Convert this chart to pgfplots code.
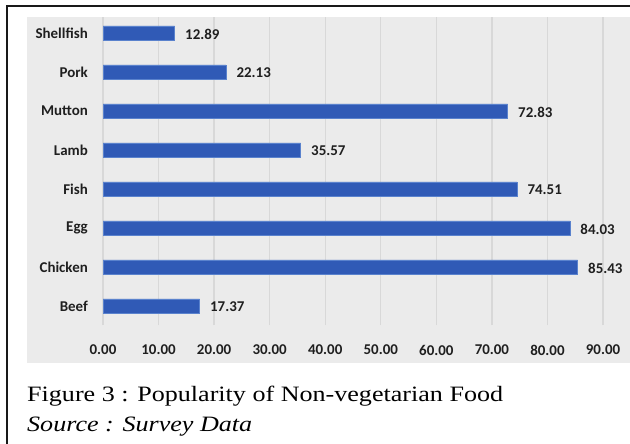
\documentclass[border=0pt]{standalone}
\usepackage{pgfplots}
\pgfplotsset{compat=1.18}
\usepackage{fontspec}
\setmainfont[FakeStretch=1.19]{Liberation Serif}
\newfontfamily\chartfont{Carlito}
\definecolor{panel}{RGB}{235,235,235}
\definecolor{gridc}{RGB}{216,216,216}
\definecolor{barblue}{RGB}{48,90,182}
\definecolor{baredge}{RGB}{90,130,205}
\begin{document}
\begin{tikzpicture}[x=1bp,y=1bp]
\useasboundingbox (0,0) rectangle (630,444);
\fill[panel] (27,81) rectangle (630,427);
\draw[line width=2bp,black!90] (7,0) -- (7,438) -- (630,438);
\begin{axis}[
  at={(103bp,118.5bp)}, anchor=south west,
  width=500bp, height=308.9bp, scale only axis,
  xmin=0, xmax=90, ymin=-0.5, ymax=7.42,
  xtick={0,10,...,90},
  ytick={0,...,7},
  yticklabels={Beef,Chicken,Egg,Fish,Lamb,Mutton,Pork,Shellfish},
  axis line style={draw=none},
  major tick length=0pt,
  xmajorgrids, major grid style={gridc, line width=1.4bp},
  ymajorgrids=false,
  /pgf/number format/.cd, fixed, fixed zerofill, precision=2, assume math mode=true,
  /pgfplots/.cd,
  tick label style={font=\chartfont\bfseries\fontsize{15}{18}\selectfont, text=black!88},
  yticklabel style={inner sep=0pt, anchor=east, xshift=-15bp},
  xticklabel style={inner sep=0pt, anchor=north, yshift=-19.5bp},
  clip=false,
  xbar, bar width=14bp,
  point meta=x,
  nodes near coords,
  nodes near coords style={font=\chartfont\bfseries\fontsize{15}{18}\selectfont, text=black!88, anchor=west, xshift=7bp, yshift=-1bp},
]
\addplot[fill=barblue, draw=baredge, line width=0.6bp] coordinates {
  (17.37,0) (85.43,1) (84.03,2) (74.51,3) (35.57,4) (72.83,5) (22.13,6) (12.89,7)
};
\end{axis}
\node[anchor=base west, inner sep=0pt, font=\fontsize{22}{24}\selectfont] at (27,42) {Figure 3 : Popularity of Non-vegetarian Food};
\node[anchor=base west, inner sep=0pt, font=\itshape\fontsize{22}{24}\selectfont] at (27,12.5) {Source : Survey Data};
\end{tikzpicture}
\end{document}
